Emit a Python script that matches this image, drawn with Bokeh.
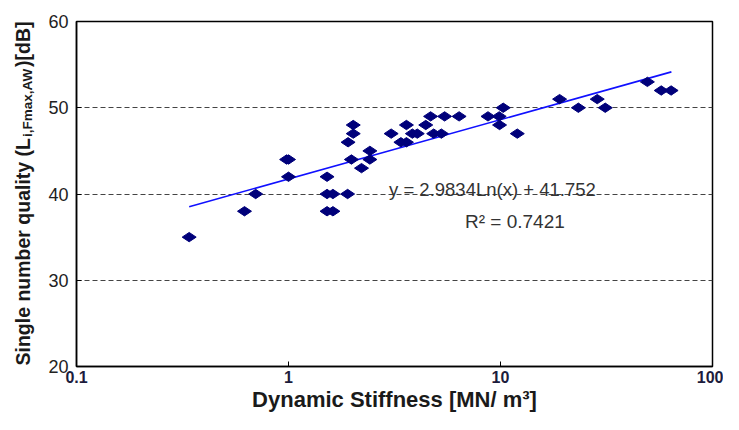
import math
from bokeh.plotting import figure
from bokeh.layouts import row
from bokeh.models import Range1d, FixedTicker, Label
from bokeh.embed import file_html
from bokeh.resources import INLINE

# Measured data (dynamic stiffness [MN/m3], single number quality [dB])
stiffness = [0.34, 0.62, 0.70, 0.98, 1.0, 1.0, 1.52, 1.52, 1.62, 1.90, 1.52, 1.62,
             2.02, 2.02, 1.91, 1.98, 2.42, 2.42, 2.21, 3.05, 3.6, 3.39, 3.6, 3.84,
             4.05, 4.44, 4.68, 4.84, 5.26, 5.45, 6.38, 8.73, 10.3, 9.86, 9.9, 12.0,
             19.0, 23.3, 28.6, 31.2, 49.3, 57.3, 63.8]
quality = [35, 38, 40, 44, 44, 42, 42, 40, 40, 40, 38, 38,
           48, 47, 46, 44, 45, 44, 43, 47, 48, 46, 46, 47,
           47, 48, 49, 47, 47, 49, 49, 49, 50, 49, 48, 47,
           51, 50, 51, 50, 53, 52, 52]

# Logarithmic trend line endpoints (y = 2.9834 ln(x) + 41.752)
trend_x = [0.34, 64.0]
trend_y = [38.53, 54.16]

x_ticks = [0.1, 1, 10, 100]
y_ticks = [20, 30, 40, 50, 60]

equation_text = "y = 2.9834Ln(x) + 41.752"
r2_text = "R\u00b2 = 0.7421"
x_title = "Dynamic Stiffness [MN/ m\u00b3]"
y_title_main = "Single number quality (L"
y_title_sub = "i,Fmax,AW"
y_title_end = ")[dB]"

FONT = "Liberation Sans"
H = 414
TW = 40  # width of the y-title strip

# ---- main chart ----
p = figure(width=723 - TW, height=H, x_axis_type="log",
           x_range=Range1d(0.1, 100), y_range=Range1d(20, 60),
           output_backend="svg", toolbar_location=None,
           min_border_left=76 - TW, min_border_right=11, min_border_top=21,
           min_border_bottom=30)
p.background_fill_color = "white"
p.border_fill_color = "white"
p.outline_line_color = "black"
p.outline_line_width = 1.5

p.xaxis.ticker = FixedTicker(ticks=x_ticks, minor_ticks=[])
p.yaxis.ticker = FixedTicker(ticks=y_ticks, minor_ticks=[])
p.xaxis.major_label_overrides = {0.1: "0.1", 1: "1", 10: "10", 100: "100"}
for ax in (p.xaxis, p.yaxis):
    ax.axis_line_color = "black"
    ax.axis_line_width = 1.5
    ax.major_tick_in = 5
    ax.major_tick_out = 0
    ax.minor_tick_line_color = None
    ax.major_tick_line_color = "black"
p.xaxis.major_label_text_font = FONT
p.xaxis.major_label_text_font_size = "16px"
p.xaxis.major_label_text_font_style = "bold"
p.xaxis.major_label_text_color = "#1c1c3c"
p.xaxis.major_label_standoff = 4
p.xaxis.axis_label = x_title
p.xaxis.axis_label_text_font = FONT
p.xaxis.axis_label_text_font_size = "22px"
p.xaxis.axis_label_text_font_style = "bold"
p.xaxis.axis_label_text_color = "#1a1a1a"
p.xaxis.axis_label_standoff = 1
p.yaxis.major_label_text_font = FONT
p.yaxis.major_label_text_font_size = "18px"
p.yaxis.major_label_text_color = "#222222"
p.yaxis.major_label_standoff = 8

p.xgrid.grid_line_color = None
p.ygrid.grid_line_color = "#444444"
p.ygrid.grid_line_dash = "5 3"
p.ygrid.grid_line_width = 1

p.line(trend_x, trend_y, line_color="#1010ff", line_width=1.6)
p.scatter(stiffness, quality, marker="diamond", angle=math.pi / 2, size=14,
          fill_color="#00007a", line_color="#00007a", line_width=1)

p.add_layout(Label(x=2.98, y=40.55, text=equation_text, text_font=FONT,
                   text_font_size="18.5px", text_color="#333333",
                   text_baseline="alphabetic"))
p.add_layout(Label(x=6.8, y=36.85, text=r2_text, text_font=FONT,
                   text_font_size="19px", text_color="#333333",
                   text_baseline="alphabetic"))

# ---- y-title strip (rotated title with subscript) ----
t = figure(width=TW, height=H, x_range=Range1d(0, 1), y_range=Range1d(0, 1),
           x_axis_type=None, y_axis_type=None, output_backend="svg",
           toolbar_location=None, min_border=0)
t.outline_line_color = None
t.background_fill_color = "white"
t.border_fill_color = "white"
t.xgrid.visible = False
t.ygrid.visible = False
common = dict(x_units="screen", y_units="screen", angle=math.pi / 2,
              text_font=FONT, text_font_style="bold",
              text_color="#1a1a1a", text_align="left", text_baseline="middle")
t.add_layout(Label(x=22, y=1, text=y_title_main, text_font_size="19.5px", **common))
t.add_layout(Label(x=27, y=229.5, text=y_title_sub, text_font_size="13.5px", **common))
t.add_layout(Label(x=22, y=299.5, text=y_title_end, text_font_size="19.5px", **common))

layout = row(t, p)
open("out.html", "w").write(file_html(layout, INLINE))
